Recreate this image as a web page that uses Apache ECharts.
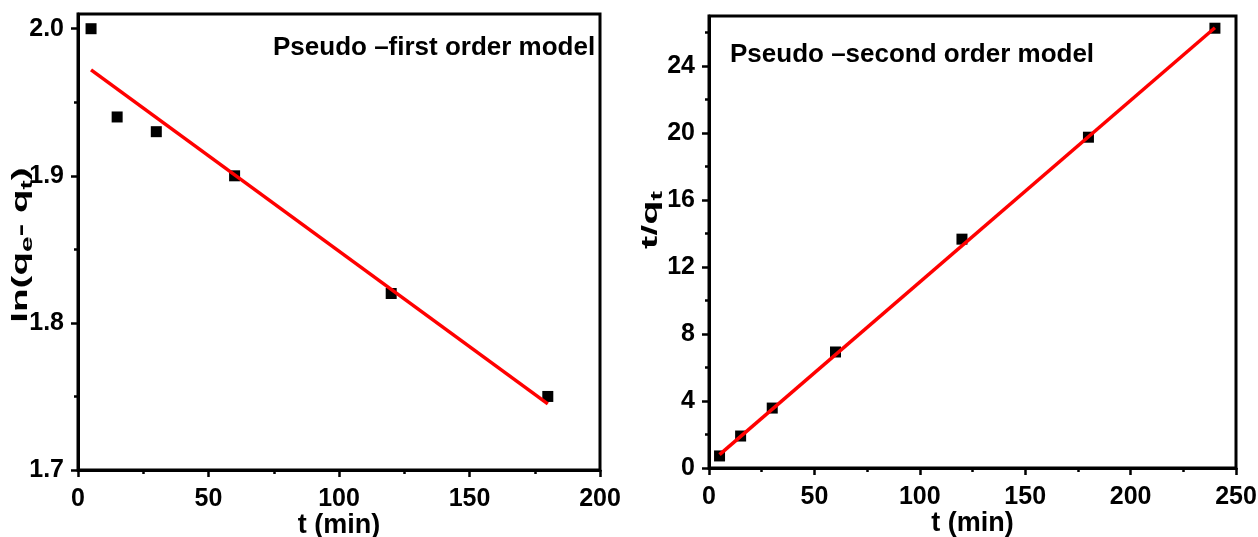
<!DOCTYPE html>
<html><head><meta charset="utf-8">
<script src="https://cdn.jsdelivr.net/npm/echarts@6/dist/echarts.min.js"></script>
<style>html,body{margin:0;padding:0;background:#fff}#c{width:1258px;height:537px}</style>
</head><body><div id="c"></div>
<script>
// ---- data ----
const tFirst = [5, 15, 30, 60, 120, 180];
const lnQ = [2.0, 1.94, 1.93, 1.90, 1.82, 1.75];
const fitFirstT = [5, 180];
const fitFirstY = [1.972, 1.745];

const tSecond = [5, 15, 30, 60, 120, 180, 240];
const tOverQ = [0.72, 1.91, 3.58, 6.93, 13.67, 19.76, 26.27];
const fitSecondT = [5, 240];
const fitSecondY = [0.8, 26.3];

const yTicksFirst = [1.7, 1.8, 1.9, 2.0];
const yMinorFirst = [1.75, 1.85, 1.95];
const yTicksSecond = [0, 4, 8, 12, 16, 20, 24];
const yMinorSecond = [2, 6, 10, 14, 18, 22, 26];

const titleFirst = 'Pseudo \u2013first order model';
const titleSecond = 'Pseudo \u2013second order model';
const xName = 't (min)';

// ---- styling ----
const FONT = "'Liberation Sans', Arial, sans-serif";
const lbl = {color:'#000', fontSize:25, fontWeight:'bold', fontFamily:FONT};
const lineAx = {show:true, onZero:false, lineStyle:{color:'#000', width:3}};
const majTick = {show:true, length:7, lineStyle:{color:'#000', width:2.5}};
const minTick = {show:true, length:4, splitNumber:2, lineStyle:{color:'#000', width:2.5}};

function xAx(grid, max) {
  return {type:'value', gridIndex:grid, min:0, max:max, interval:50,
    axisLine:lineAx, axisTick:majTick, minorTick:minTick, splitLine:{show:false},
    axisLabel:Object.assign({margin:17}, lbl),
    name:xName, nameLocation:'middle', nameGap:42, nameMoveOverlap:false,
    nameTextStyle:{color:'#000', fontSize:27, fontWeight:'bold', fontFamily:FONT}};
}
function yMajor(grid, min, max, ticks, fmt) {
  return {type:'value', gridIndex:grid, min:min, max:max, position:'left',
    axisLine:lineAx,
    axisTick:Object.assign({customValues:ticks}, majTick),
    axisLabel:Object.assign({customValues:ticks, margin:14, formatter:fmt}, lbl),
    splitLine:{show:false}};
}
function yMinor(grid, min, max, ticks) {
  return {type:'value', gridIndex:grid, min:min, max:max, position:'left', offset:0,
    axisLine:{show:false},
    axisTick:{show:true, customValues:ticks, length:4, lineStyle:{color:'#000', width:2.5}},
    axisLabel:{show:false}, splitLine:{show:false}};
}
const pair = (xs, ys) => xs.map((x, i) => [x, ys[i]]);
const subRich = {
  s:{fontSize:16, fontWeight:'bold', fontFamily:FONT, fill:'#000', verticalAlign:'bottom', lineHeight:16}
};

const chart = echarts.init(document.getElementById('c'), null, {renderer:'canvas'});
chart.setOption({
  animation:false,
  backgroundColor:'#fff',
  title:[
    {text:titleFirst, left:268, top:30, textStyle:{color:'#000', fontSize:26, fontWeight:'bold', fontFamily:FONT}},
    {text:titleSecond, left:725, top:37, textStyle:{color:'#000', fontSize:26, fontWeight:'bold', fontFamily:FONT}}
  ],
  grid:[
    {left:78, top:14, width:522, height:456, containLabel:false, outerBoundsMode:'none',
     show:true, borderColor:'#000', borderWidth:3, backgroundColor:'transparent'},
    {left:709, top:16, width:527, height:452, containLabel:false, outerBoundsMode:'none',
     show:true, borderColor:'#000', borderWidth:3, backgroundColor:'transparent'}
  ],
  xAxis:[xAx(0, 200), xAx(1, 250)],
  yAxis:[
    yMajor(0, 1.7, 2.01, yTicksFirst, v => v.toFixed(1)),
    yMinor(0, 1.7, 2.01, yMinorFirst),
    yMajor(1, 0, 27, yTicksSecond, v => String(Math.round(v))),
    yMinor(1, 0, 27, yMinorSecond)
  ],
  graphic:[
    {type:'text', x:21, y:245, rotation:Math.PI/2, scaleX:1.75, scaleY:1,
     style:{text:'ln(q{s|e}- q{s|t})', fill:'#000', fontSize:22, fontWeight:'bold', fontFamily:FONT,
            align:'center', verticalAlign:'middle', lineHeight:30, rich:subRich}},
    {type:'text', x:651, y:220, rotation:Math.PI/2, scaleX:1.8, scaleY:1,
     style:{text:'t/q{s|t}', fill:'#000', fontSize:22, fontWeight:'bold', fontFamily:FONT,
            align:'center', verticalAlign:'middle', lineHeight:30, rich:subRich}}
  ],
  series:[
    {type:'scatter', xAxisIndex:0, yAxisIndex:0, data:pair(tFirst, lnQ), symbol:'rect', symbolSize:11,
     itemStyle:{color:'#000', opacity:1}, z:2},
    {type:'line', xAxisIndex:0, yAxisIndex:0, data:pair(fitFirstT, fitFirstY), showSymbol:false,
     lineStyle:{color:'#ff0000', width:3.5}, z:3},
    {type:'scatter', xAxisIndex:1, yAxisIndex:2, data:pair(tSecond, tOverQ), symbol:'rect', symbolSize:11,
     itemStyle:{color:'#000', opacity:1}, z:2},
    {type:'line', xAxisIndex:1, yAxisIndex:2, data:pair(fitSecondT, fitSecondY), showSymbol:false,
     lineStyle:{color:'#ff0000', width:3.5}, z:3}
  ]
});
</script></body></html>
